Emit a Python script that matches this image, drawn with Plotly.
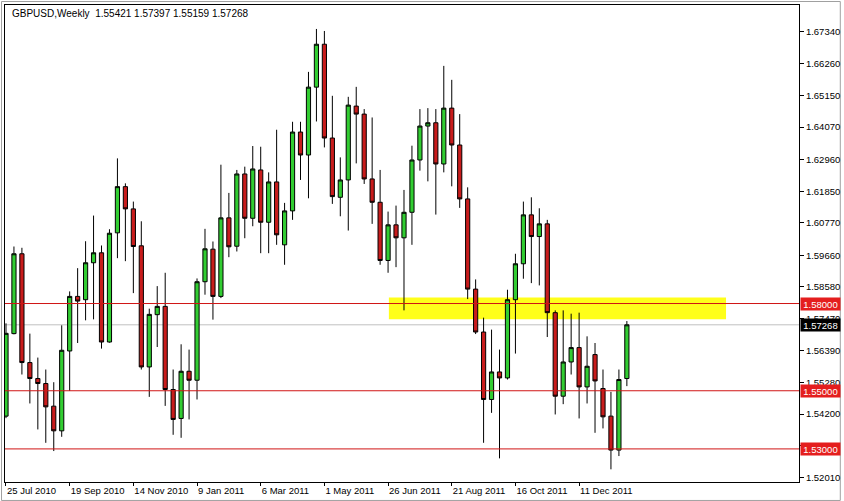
import pandas as pd
import plotly.graph_objects as go

# ---------------- data ----------------
dates = pd.date_range("2010-07-25", periods=79, freq="7D")

opens = [1.54127, 1.56965, 1.59711, 1.55970, 1.55421, 1.55249, 1.54470, 1.53622, 1.56368, 1.58245,
         1.58132, 1.59402, 1.59745, 1.56677, 1.60431, 1.62020, 1.61255, 1.59985, 1.55819, 1.57617,
         1.57902, 1.55043, 1.54048, 1.55671, 1.55362, 1.58750, 1.59869, 1.58245, 1.60946, 1.59971,
         1.62456, 1.60932, 1.62594, 1.60795, 1.62182, 1.60019, 1.61186, 1.63898, 1.63108, 1.65442,
         1.66918, 1.63692, 1.61653, 1.62250, 1.64790, 1.64515, 1.62285, 1.61482, 1.59481, 1.60706,
         1.60260, 1.61138, 1.62937, 1.64104, 1.64217, 1.62799, 1.64721, 1.63452, 1.61598, 1.58496,
         1.57020, 1.54700, 1.55647, 1.55441, 1.58132, 1.59367, 1.61049, 1.60304, 1.60740, 1.57686,
         1.54813, 1.55990, 1.56485, 1.55132, 1.56244, 1.55077, 1.54127, 1.52960, 1.55421]

highs = [1.57319, 1.59961, 1.59917, 1.56965, 1.56141, 1.55730, 1.55294, 1.57250, 1.58417, 1.59216,
         1.60143, 1.61025, 1.59996, 1.60555, 1.62992, 1.62134, 1.61506, 1.60829, 1.57823, 1.58599,
         1.59058, 1.55730, 1.56598, 1.56416, 1.58863, 1.60569, 1.60133, 1.62775, 1.61804, 1.62594,
         1.62707, 1.63417, 1.63393, 1.62511, 1.63977, 1.61461, 1.64251, 1.64251, 1.65967, 1.67443,
         1.67374, 1.65144, 1.63026, 1.65109, 1.65452, 1.64687, 1.64399, 1.62594, 1.61162, 1.61368,
         1.61907, 1.63428, 1.64687, 1.64721, 1.64687, 1.66173, 1.65693, 1.64515, 1.61996, 1.58829,
         1.57514, 1.57102, 1.56416, 1.58475, 1.59711, 1.61506, 1.61653, 1.61276, 1.60878, 1.57765,
         1.57765, 1.57651, 1.57686, 1.56872, 1.56642, 1.55730, 1.54961, 1.55730, 1.57397]

lows = [1.54058, 1.56941, 1.55558, 1.54563, 1.53670, 1.53210, 1.52926, 1.53416, 1.54995, 1.56642,
        1.57422, 1.57456, 1.56450, 1.56656, 1.59560, 1.59457, 1.58358, 1.55730, 1.54789, 1.56505,
        1.54480, 1.53485, 1.53382, 1.54014, 1.54700, 1.58304, 1.57446, 1.58187, 1.59594, 1.59790,
        1.60246, 1.60658, 1.59731, 1.59731, 1.60019, 1.59333, 1.60878, 1.62250, 1.61619, 1.64261,
        1.63369, 1.61427, 1.61001, 1.60510, 1.62820, 1.62113, 1.60740, 1.59333, 1.59058, 1.59251,
        1.57765, 1.60019, 1.62570, 1.62202, 1.61059, 1.62511, 1.62031, 1.61289, 1.58153, 1.56950,
        1.53210, 1.54240, 1.52675, 1.55386, 1.56279, 1.58853, 1.58702, 1.58623, 1.56848, 1.54185,
        1.54539, 1.55558, 1.54048, 1.54563, 1.53554, 1.53705, 1.52298, 1.52754, 1.55159]

closes = [1.56975, 1.59711, 1.55970, 1.55421, 1.55249, 1.54446, 1.53622, 1.56392, 1.58245, 1.58084,
          1.59402, 1.59745, 1.56677, 1.60418, 1.62020, 1.61255, 1.59961, 1.55819, 1.57627, 1.57902,
          1.55043, 1.54014, 1.55671, 1.55362, 1.58750, 1.59882, 1.58245, 1.60946, 1.59951, 1.62456,
          1.60932, 1.62628, 1.60795, 1.62182, 1.60363, 1.61186, 1.63898, 1.63108, 1.65442, 1.66918,
          1.63692, 1.61677, 1.62250, 1.64824, 1.64515, 1.62285, 1.61482, 1.59481, 1.60706, 1.60260,
          1.61138, 1.62937, 1.64104, 1.64217, 1.62799, 1.64721, 1.63452, 1.61598, 1.58496, 1.57020,
          1.54700, 1.55647, 1.55441, 1.58132, 1.59367, 1.61049, 1.60304, 1.60740, 1.57686, 1.54813,
          1.55990, 1.56485, 1.55132, 1.55843, 1.55338, 1.54103, 1.52960, 1.55386, 1.57268]

x_tick_dates = ["2010-07-25", "2010-09-19", "2010-11-14", "2011-01-09", "2011-03-06",
                "2011-05-01", "2011-06-26", "2011-08-21", "2011-10-16", "2011-12-11"]
x_tick_labels = ["25 Jul 2010", "19 Sep 2010", "14 Nov 2010", "9 Jan 2011", "6 Mar 2011",
                 "1 May 2011", "26 Jun 2011", "21 Aug 2011", "16 Oct 2011", "11 Dec 2011"]

y_tick_values = [1.67340, 1.66260, 1.65150, 1.64070, 1.62960, 1.61850, 1.60770, 1.59660,
                 1.58580, 1.57470, 1.56390, 1.55280, 1.54200, 1.53110, 1.52010]
y_tick_labels = ["%.5f" % v for v in y_tick_values]

level_lines = [1.58000, 1.55000, 1.53000]
bid_price = 1.57268
zone_low, zone_high = 1.5746, 1.5821
zone_start, zone_end = "2011-06-26 17:00", "2012-04-18 05:00"

title_text = "GBPUSD,Weekly  1.55421 1.57397 1.55159 1.57268"

# ---------------- geometry ----------------
W, H = 844, 501
ML, MR, MT, MB = 4, 42, 4, 19
PW, PH = W - ML - MR, H - MT - MB

def px_x(p):
    return (p - ML) / PW

def px_y(p):
    return 1 - (p - MT) / PH

x_start = pd.Timestamp("2010-07-25") - pd.Timedelta(hours=21)
x_end = pd.Timestamp("2010-07-25") + pd.Timedelta(days=7 * 99.625)

FONT = "Liberation Sans, Arial, sans-serif"

fig = go.Figure()
fig.add_trace(go.Candlestick(
    x=dates, open=opens, high=highs, low=lows, close=closes,
    increasing=dict(fillcolor="#32CD32", line=dict(color="#000000", width=1)),
    decreasing=dict(fillcolor="#C81C1C", line=dict(color="#000000", width=1)),
    whiskerwidth=0, showlegend=False, hoverinfo="skip",
))

shapes = []
# yellow support/resistance zone (background)
shapes.append(dict(type="rect", xref="x", yref="y", x0=zone_start, x1=zone_end,
                   y0=zone_low, y1=zone_high, fillcolor="#FFFF1A", line=dict(width=0),
                   layer="below"))
# bid line
shapes.append(dict(type="line", xref="paper", yref="y", x0=0, x1=1, y0=bid_price, y1=bid_price,
                   line=dict(color="#C0C0C0", width=1), layer="below"))
# horizontal levels
for lv in level_lines:
    shapes.append(dict(type="line", xref="paper", yref="y", x0=0, x1=1, y0=lv, y1=lv,
                       line=dict(color="#D01414", width=1), layer="above"))
# outer window border
shapes.append(dict(type="rect", xref="paper", yref="paper",
                   x0=px_x(0.5), x1=px_x(W - 0.5), y0=px_y(H - 0.5), y1=px_y(0.5),
                   line=dict(color="#A0A0A0", width=1), fillcolor="rgba(0,0,0,0)", layer="below"))

annotations = []
annotations.append(dict(text=title_text, xref="paper", yref="paper", x=px_x(9), y=px_y(13),
                        xanchor="left", yanchor="middle", showarrow=False,
                        font=dict(family=FONT, size=10, color="#000000")))
for lv in level_lines:
    annotations.append(dict(text="%.5f" % lv, xref="paper", yref="y", x=px_x(803), y=lv,
                            xanchor="left", yanchor="middle", showarrow=False,
                            bgcolor="#E41E1E", width=37, height=10, borderpad=1,
                            font=dict(family=FONT, size=9.5, color="#FFFFFF")))
annotations.append(dict(text="%.5f" % bid_price, xref="paper", yref="y", x=px_x(803), y=bid_price,
                        xanchor="left", yanchor="middle", showarrow=False,
                        bgcolor="#000000", width=37, height=10, borderpad=1,
                        font=dict(family=FONT, size=9.5, color="#FFFFFF")))

fig.update_layout(
    width=W, height=H,
    margin=dict(l=ML, r=MR, t=MT, b=MB, pad=0),
    paper_bgcolor="#FFFFFF", plot_bgcolor="#FFFFFF",
    boxgap=0.25,
    shapes=shapes, annotations=annotations,
    font=dict(family=FONT, size=9.5, color="#000000"),
    xaxis=dict(type="date", range=[x_start, x_end], rangeslider=dict(visible=False),
               tickvals=x_tick_dates, ticktext=x_tick_labels,
               ticks="outside", ticklen=3, tickcolor="#000000",
               ticklabelposition="outside right",
               showline=True, linecolor="#000000", linewidth=1, mirror=True,
               showgrid=False, zeroline=False, fixedrange=True),
    yaxis=dict(side="right", range=[1.51862, 1.68267],
               tickvals=y_tick_values, ticktext=y_tick_labels,
               ticks="outside", ticklen=4, tickcolor="#000000",
               showline=True, linecolor="#000000", linewidth=1, mirror=True,
               showgrid=False, zeroline=False, fixedrange=True),
    hovermode=False,
)

fig.write_html("out.html", config={"displayModeBar": False, "staticPlot": True},
               post_script="document.body.style.margin='0';document.body.style.overflow='hidden';")
